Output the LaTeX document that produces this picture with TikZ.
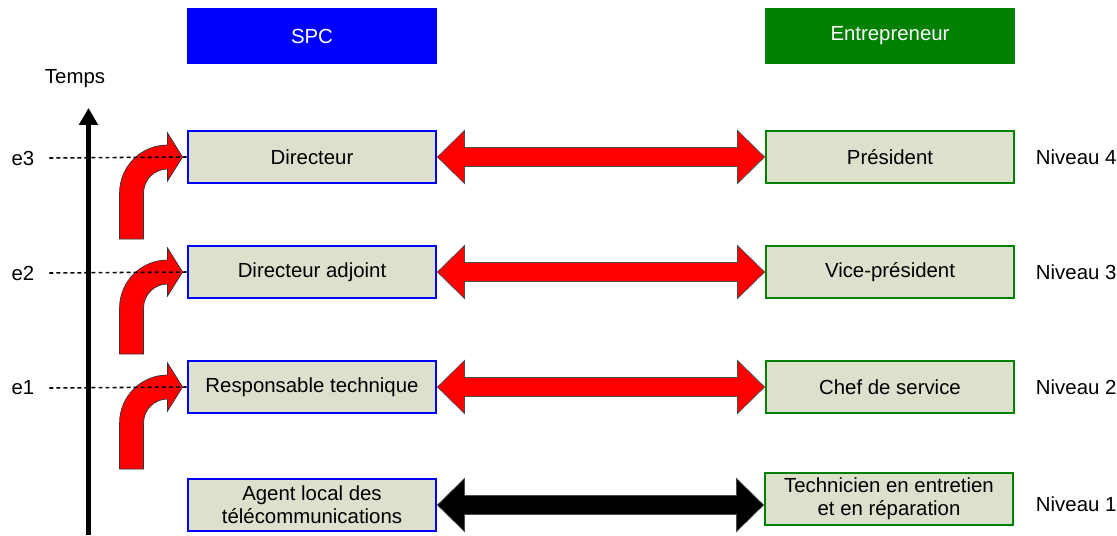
\documentclass[tikz,border=0pt]{standalone}
\usepackage{fontspec}
\setmainfont{Liberation Sans}
\usetikzlibrary{calc,arrows.meta}

\definecolor{vert_ent}{RGB}{0,128,0}
\definecolor{fond_box}{RGB}{221,224,205}
\definecolor{rouge_vif}{RGB}{255,0,0}

\begin{document}
\begin{tikzpicture}[
    x=0.025cm, y=0.025cm,
    every node/.style={font=\fontsize{14.5}{16.5}\selectfont},
% Block styles
    head/.style={rectangle, minimum width=6.25cm, minimum height=1.42cm, text=white, inner sep=0pt},
    spc/.style={rectangle, draw=blue, fill=fond_box, line width=2pt, minimum width=6.2cm, minimum height=1.3cm, align=center, inner sep=0pt},
    ent/.style={rectangle, draw=vert_ent, fill=fond_box, line width=2pt, minimum width=6.2cm, minimum height=1.3cm, align=center, inner sep=0pt},
    dblarr/.style={draw=black!70, line width=0.5pt, line join=miter},
    curvarr/.style={draw=black!80, fill=rouge_vif, line width=0.5pt},
    tick/.style={dashed, dash pattern=on 2.8pt off 2.2pt, line width=1.1pt}
]
\useasboundingbox (0,0) rectangle (1117,-535);

% 1. Headers
\node[head, fill=blue] (hspc) at (312,-36) {SPC};
\node[head, fill=vert_ent] (hent) at (890,-36) {Entrepreneur};

% 2. Levels (SPC side / contractor side)
\node[spc] (l4) at (312,-157) {Directeur};
\node[spc] (l3) at (312,-272) {Directeur adjoint};
\node[spc] (l2) at (312,-387) {Responsable technique};
\node[spc] (l1) at (312,-505) {Agent local des\\télécommunications};

\node[ent] (r4) at (890,-157) {Président};
\node[ent] (r3) at (890,-272) {Vice-président};
\node[ent] (r2) at (890,-387) {Chef de service};
\node[ent] (r1) at (889,-499) {Technicien en entretien\\et en réparation};

\node[anchor=west] (n4) at (1031,-157) {Niveau 4};
\node[anchor=west] (n3) at (1031,-272) {Niveau 3};
\node[anchor=west] (n2) at (1031,-387) {Niveau 2};
\node[anchor=west] (n1) at (1031,-504) {Niveau 1};

% Double arrows SPC <-> contractor
\foreach \i/\c in {4/rouge_vif,3/rouge_vif,2/rouge_vif,1/black}{
  \coordinate (t\i) at (r\i.west |- l\i.east);
  \draw[dblarr, fill=\c] (l\i.east) -- ++(27,-26.5) -- ++(0,17) -- ($(t\i)+(-27,-9.5)$) -- ++(0,-17) -- (t\i)
        -- ++(-27,26.5) -- ++(0,-17) -- ($(l\i.east)+(27,9.5)$) -- ++(0,17) -- cycle;
}

% 3. Time axis
\coordinate (axbot) at (88.5,-535);
\coordinate (axtop) at (88.5,-108);
\draw[-{Triangle[length=12pt,width=13pt]}, line width=2.9pt] (axbot) -- (axtop);
\node (temps) at (75,-79) {Temps};

% Promotion arrows
\foreach \i in {4,3,2}{
  \draw[curvarr] ($(l\i.west)+(-67,-82)$) -- ++(0,46) arc[start angle=180, end angle=90, radius=48]
        -- ++(0,12) -- ($(l\i.west)+(-4,0)$) -- ++(-15,-24) -- ++(0,12)
        arc[start angle=90, end angle=180, radius=24] -- ++(0,-46) -- cycle;
}

% Steps
\node (e3) at (23,-158) {e3};
\node (e2) at (23,-273) {e2};
\node (e1) at (23,-388) {e1};
\draw[tick] ($(e3.east)+(10,0)$) -- (l4.west);
\draw[tick] ($(e2.east)+(10,0)$) -- (l3.west);
\draw[tick] ($(e1.east)+(10,0)$) -- (l2.west);

\end{tikzpicture}
\end{document}
